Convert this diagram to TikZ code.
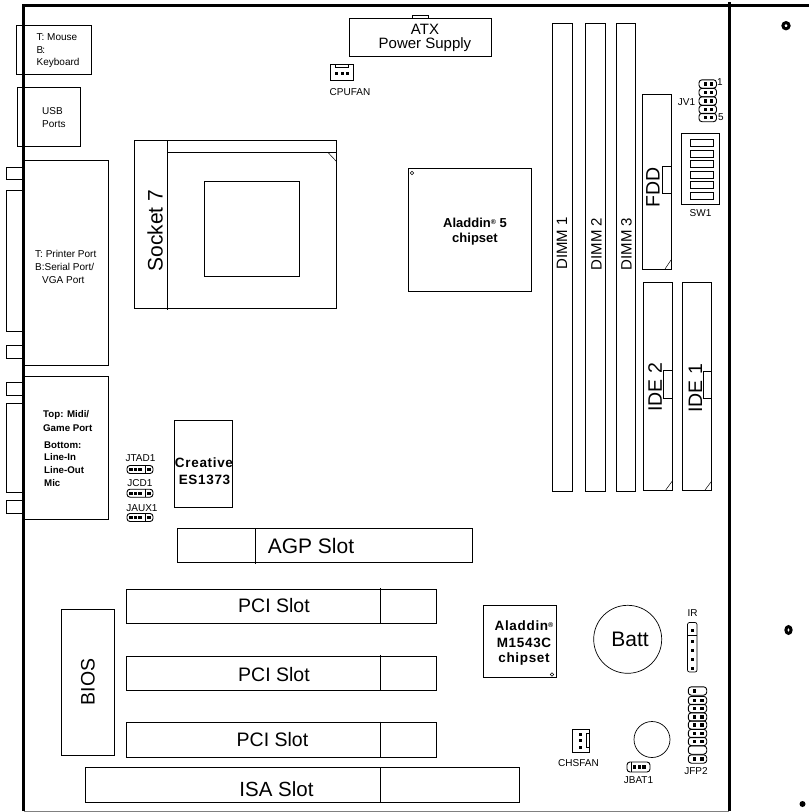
\documentclass[tikz,border=0pt]{standalone}
\usepackage{fontspec}
\setmainfont{Liberation Sans}
\usepackage{tikz}
\tikzset{
  part/.style={draw=black, line width=0.7pt},
  board/.style={draw=black, line width=3pt},
  thin part/.style={draw=black, line width=0.5pt},
  jumper/.style={draw=black, line width=0.9pt, rounded corners=3pt},
  pin/.style={fill=black, draw=none},
  small/.style={inner sep=0pt, font=\fontsize{10}{12}\selectfont},
  small left/.style={small, anchor=west},
  bold small/.style={inner sep=0pt, anchor=west, font=\fontsize{9.7}{12}\selectfont\bfseries},
  chip/.style={inner sep=0pt, font=\fontsize{13}{15}\selectfont\bfseries},
  wide chip/.style={inner sep=0pt, font=\fontsize{13.5}{15}\selectfont\bfseries\addfontfeature{LetterSpace=5}},
  big/.style={inner sep=0pt, font=\fontsize{19.5}{22}\selectfont},
  bigger/.style={inner sep=0pt, font=\fontsize{21}{24}\selectfont},
  mid/.style={inner sep=0pt, font=\fontsize{15}{18}\selectfont},
}
\begin{document}
\begin{tikzpicture}[x=1pt,y=-1pt]
\useasboundingbox (0,0) rectangle (809,812);
% board outline
\draw [board] (23.5,811) -- (23.5,5) -- (809,5);
\draw [board] (729,2) -- (729,811);
\draw [draw=gray, line width=0.7pt] (23.5,811) -- (729,811);
% holes
\draw [line width=3pt] (786,25.7) circle (3.1);
\draw [line width=3pt] (788.5,630) ellipse (2.6 and 3.4);
\fill (802.5,804) circle (3);
% back panel
\draw [part] (16.5,25) rectangle (91.5,74);
\draw [part] (17.5,87.5) rectangle (80.5,146);
\draw [part] (24,160.5) rectangle (108.5,365);
\draw [part] (24,376) rectangle (108.5,519);
\foreach \a/\b in {167/179.5, 190.5/331, 345.5/358, 382.5/395, 403/492.7, 500.7/513.3}
  \draw [part] (23,\a) -- (6.5,\a) -- (6.5,\b) -- (23,\b);
\node [small left] (mouse) at (36.5,37) {T: Mouse};
\node [small left] (mouseb) at (36.5,50) {B\kern-1pt:};
\node [small left] (keyboard) at (36.5,63) {Keyboard};
\node [small left] (usb) at (42,111) {USB};
\node [small left] (ports) at (42,124) {Ports};
\node [small left] (printer) at (35,254) {T: Printer Port};
\node [small left] (serial) at (35,267) {B:Serial Port/};
\node [small left] (vga) at (42,280) {VGA Port};
\node [bold small] (midi) at (43,415) {Top: Midi/};
\node [bold small] (game) at (43,428.5) {Game Port};
\node [bold small] (bottom) at (44,445) {Bottom:};
\node [bold small] (linein) at (44,457.5) {Line-In};
\node [bold small] (lineout) at (44,470.5) {Line-Out};
\node [bold small] (mic) at (44,483) {Mic};
% socket
\draw [part] (134.5,140.5) rectangle (336.5,308.5);
\draw [part] (167,140.5) -- (167,310);
\draw [part] (167,152.5) -- (336.5,152.5);
\draw [thin part] (328,152.5) -- (336.5,161.5);
\draw [part] (204.5,181.5) rectangle (299.5,276);
\node [bigger, rotate=90] (socket) at (155,230.5) {Socket 7};
% atx and cpu fan
\draw [part] (349,18.5) rectangle (491.5,56);
\draw [part] (412.5,18.5) -- (412.5,15) -- (428,15) -- (428,18.5);
\node [mid] (atx) at (425,29) {ATX};
\node [mid] (power) at (425,45) {Power Supply};
\draw [part] (330,64) rectangle (353.5,80.5);
\draw [thin part] (335.5,64) rectangle (348.5,67.5);
\foreach \x in {336.5,342,347.5}
  \fill [pin] (\x-1.5,71.5) rectangle (\x+1.5,74.5);
\node [small] (cpufan) at (350,92) {CPUFAN};
% north bridge
\draw [part] (408.5,168.5) rectangle (531,291);
\draw [thin part] (412,173) circle (1.8);
\node [chip] (north) at (475,223) {Aladdin\raisebox{3pt}{\fontsize{7}{8}\selectfont\textregistered} 5};
\node [chip] (northb) at (475,239.5) {chipset};
% dimm sockets
\draw [part] (552.5,23) rectangle (572,491);
\draw [part] (585.5,23) rectangle (605,491);
\draw [part] (616.5,23) rectangle (635.5,491);
\node [mid, rotate=90] (dimma) at (562,243.5) {DIMM 1};
\node [mid, rotate=90] (dimmb) at (596.5,244) {DIMM 2};
\node [mid, rotate=90] (dimmc) at (626.5,244) {DIMM 3};
% drive connectors
\draw [part] (642,94.5) rectangle (671,269);
\draw [part] (662.5,166) rectangle (671,193.5);
\draw [thin part] (665,269) -- (671,260);
\node [big, rotate=90] (fdd) at (653,187.5) {FDD};
\draw [part] (643,282) rectangle (672.3,490);
\draw [part] (663.3,370.7) rectangle (672.3,398);
\draw [thin part] (665.7,490) -- (672.3,481);
\node [big, rotate=90] (idea) at (655,387.5) {IDE 2};
\draw [part] (682.3,282) rectangle (711.7,490);
\draw [part] (703,371) rectangle (711.7,398.5);
\draw [thin part] (705,490) -- (711.7,481);
\node [big, rotate=90] (ideb) at (695.5,388.5) {IDE 1};
% jumper jv1
\foreach \y in {84,92.5,101,109.5,117.5} {
  \draw [jumper] (699,\y-4.2) rectangle (716.5,\y+4.2);
  \fill [pin] (703.5,\y-1.8) rectangle (706.7,\y+1.8);
  \fill [pin] (710,\y-1.8) rectangle (713.2,\y+1.8);
}
\node [small] (jva) at (720,82.5) {1};
\node [small] (jvb) at (721,117) {5};
\node [small] (jv) at (686.5,102) {JV1};
% switch
\draw [part] (681.5,133.5) rectangle (719.5,204);
\foreach \y in {139.5,150,160.5,171,181.5,192.5}
  \draw [part] (690,\y) rectangle (713.5,\y+7);
\node [small] (sw) at (700.5,213) {SW1};
% audio
\draw [part] (174.5,420.5) rectangle (232.5,507);
\node [wide chip] (creative) at (204,463) {Creative};
\node [wide chip] (es) at (204.5,479.5) {ES1373};
\foreach \y/\n/\l/\t/\xl in {469.5/jtad/JTAD1/458/140.5, 493.2/jcd/JCD1/483/140, 517.5/jaux/JAUX1/508/142} {
  \draw [jumper] (127,\y-4) rectangle (153,\y+4);
  \draw [thin part] (145.5,\y-4) -- (145.5,\y+4);
  \foreach \x in {131,135.5,140,149}
    \fill [pin] (\x-1.6,\y-1.7) rectangle (\x+1.6,\y+1.7);
  \node [small] (\n) at (\xl,\t) {\l};
}
% slots
\draw [part] (177.5,528) rectangle (472.5,562);
\draw [part] (255,528) -- (255,564);
\node [bigger] (agp) at (311,546) {AGP Slot};
\foreach \y/\n/\t/\c in {589.3/pcia/606/274, 656.3/pcib/675/274, 722.7/pcic/740/272.5} {
  \draw [part] (126,\y) rectangle (436,\y+34.3);
  \draw [part] (380,\y-1) -- (380,\y+34.3);
  \node [big] (\n) at (\c,\t) {PCI Slot};
}
\draw [part] (85,767.5) rectangle (519.5,802);
\draw [part] (380,767.5) -- (380,802);
\node [inner sep=0pt, font=\fontsize{20.5}{24}\selectfont] (isa) at (276.5,789) {ISA Slot};
\draw [part] (61.5,609) rectangle (114.5,755);
\node [big, rotate=90] (bios) at (88,682) {BIOS};
% south bridge
\draw [part] (483,605) rectangle (556,677.5);
\draw [thin part] (552,674.5) circle (1.7);
\node [wide chip] (south) at (524,626) {Aladdin\raisebox{3pt}{\fontsize{7}{8}\selectfont\textregistered}};
\node [wide chip] (southb) at (524,643) {M1543C};
\node [wide chip] (southc) at (524,659) {chipset};
% battery
\draw [part] (627.7,639.3) circle (34);
\node [bigger] (batt) at (630,639) {Batt};
\draw [part] (652,739.5) circle (18);
\draw [jumper] (627,762) rectangle (650,772);
\draw [thin part] (631,762) -- (631,772);
\foreach \x in {634.5,639.5,644}
  \fill [pin] (\x-1.6,765.3) rectangle (\x+1.6,768.7);
\node [small] (jbat) at (638.5,780.5) {JBAT1};
% ir
\node [small] (ir) at (692.5,613) {IR};
\draw [part, rounded corners=2pt] (687.5,622.5) rectangle (697,672);
\draw [thin part] (687.5,635) -- (697,635);
\foreach \y in {630,641,650,659.5,668.5}
  \fill [pin] (690.8,\y-1.5) rectangle (693.8,\y+1.5);
% jfp2
\foreach \y in {691,700.5,708.5,717,725,733.5,741.5,750,759}
  \draw [jumper] (688.3,\y-4.2) rectangle (706.7,\y+4.2);
\fill [pin] (692.5,689.3) rectangle (696,692.7);
\foreach \y in {700.5,708.5,717,725,733.5,741.5,759} {
  \fill [pin] (692.5,\y-1.7) rectangle (696,\y+1.7);
  \fill [pin] (700,\y-1.7) rectangle (703.5,\y+1.7);
}
\node [small] (jfp) at (696,771) {JFP2};
% chassis fan
\draw [part] (572.5,729) rectangle (589.5,752.5);
\draw [thin part] (586.7,733.7) rectangle (589.5,747.7);
\foreach \y in {734,740.5,747.5}
  \fill [pin] (578.5,\y-1.5) rectangle (581.5,\y+1.5);
\node [small] (chsfan) at (578.5,763) {CHSFAN};
\end{tikzpicture}
\end{document}
